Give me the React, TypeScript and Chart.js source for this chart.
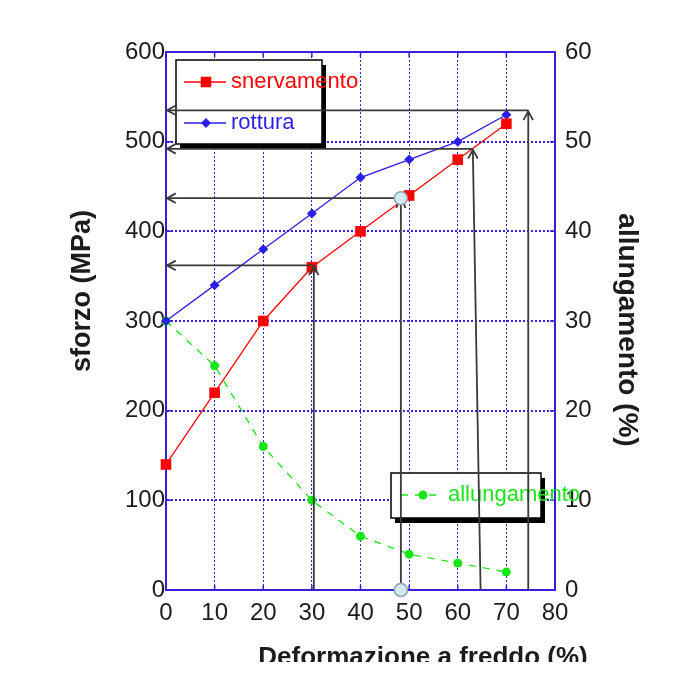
import React, { useEffect, useRef } from 'react';
import { Chart, registerables } from 'chart.js';

Chart.register(...registerables);

// ---- data ----
const deformazione = [0, 10, 20, 30, 40, 50, 60, 70];
const snervamento = [140, 220, 300, 360, 400, 440, 480, 520];
const rottura = [300, 340, 380, 420, 460, 480, 500, 530];
const allungamento = [30, 25, 16, 10, 6, 4, 3, 2];

// annotation arrows (data units): vertical from (bottomX, 0) up to (topX, level), horizontal from (topX, level) to x = 0
const arrowBottomX = [30.4, 48.3, 64.7, 74.5];
const arrowTopX = [30.4, 48.3, 63.1, 74.5];
const arrowLevel = [362, 437, 492, 535];
const markedArrow = [false, true, false, false];

const xLabel = 'Deformazione a freddo (%)';
const yLabel = 'sforzo (MPa)';
const y1Label = 'allungamento (%)';

const FONT = '"Liberation Sans", Arial, sans-serif';
const RED = '#ff0000';
const BLUE = '#2c1ee6';
const GREEN = '#19e619';
const FRAME = 'rgb(52,32,218)';
const TEXT = '#1c1c1c';
const ARROW = '#3a3a3a';

function marker(ctx: CanvasRenderingContext2D, style: string, x: number, y: number, r: number, color: string) {
  ctx.save();
  ctx.fillStyle = color;
  ctx.beginPath();
  if (style === 'rect') {
    const s = Math.SQRT1_2 * r;
    ctx.rect(x - s, y - s, 2 * s, 2 * s);
  } else if (style === 'rectRot') {
    ctx.moveTo(x, y - r);
    ctx.lineTo(x + r, y);
    ctx.lineTo(x, y + r);
    ctx.lineTo(x - r, y);
    ctx.closePath();
  } else {
    ctx.arc(x, y, r, 0, Math.PI * 2);
  }
  ctx.fill();
  ctx.restore();
}

function arrowHead(ctx: CanvasRenderingContext2D, tx: number, ty: number, fx: number, fy: number) {
  const ang = Math.atan2(ty - fy, tx - fx);
  const len = 10;
  const spread = 0.5;
  ctx.beginPath();
  ctx.moveTo(tx - len * Math.cos(ang - spread), ty - len * Math.sin(ang - spread));
  ctx.lineTo(tx, ty);
  ctx.lineTo(tx - len * Math.cos(ang + spread), ty - len * Math.sin(ang + spread));
  ctx.stroke();
}

function legendBox(ctx: CanvasRenderingContext2D, x: number, y: number, w: number, h: number) {
  ctx.save();
  ctx.fillStyle = '#000';
  ctx.fillRect(x + 4, y + 5, w, h);
  ctx.fillStyle = '#fff';
  ctx.fillRect(x, y, w, h);
  ctx.strokeStyle = '#000';
  ctx.lineWidth = 1.5;
  ctx.strokeRect(x, y, w, h);
  ctx.restore();
}

function legendEntry(ctx: CanvasRenderingContext2D, ds: any, x: number, y: number) {
  ctx.save();
  ctx.strokeStyle = ds.borderColor;
  ctx.lineWidth = 1.3;
  ctx.setLineDash(ds.borderDash || []);
  ctx.beginPath();
  ctx.moveTo(x, y);
  ctx.lineTo(x + 42, y);
  ctx.stroke();
  ctx.setLineDash([]);
  marker(ctx, ds.pointStyle, x + 22, y, ds.pointRadius, ds.borderColor);
  ctx.fillStyle = ds.borderColor;
  ctx.font = `22px ${FONT}`;
  ctx.textBaseline = 'middle';
  ctx.textAlign = 'left';
  ctx.fillText(ds.label, x + 47, y);
  ctx.restore();
}

const framePlugin = {
  id: 'frameTicks',
  beforeDatasetsDraw(chart: any) {
    const { ctx, chartArea: a, scales } = chart;
    ctx.save();
    ctx.strokeStyle = FRAME;
    ctx.lineWidth = 2;
    ctx.beginPath();
    ctx.moveTo(a.left - 1, a.top);
    ctx.lineTo(a.right + 1, a.top);
    ctx.stroke();
    ctx.lineWidth = 1.5;
    ctx.beginPath();
    scales.x.ticks.forEach((t: any) => {
      const p = scales.x.getPixelForValue(t.value);
      ctx.moveTo(p, a.bottom);
      ctx.lineTo(p, a.bottom - 5);
      ctx.moveTo(p, a.top);
      ctx.lineTo(p, a.top + 5);
    });
    scales.y.ticks.forEach((t: any) => {
      const p = scales.y.getPixelForValue(t.value);
      ctx.moveTo(a.left, p);
      ctx.lineTo(a.left + 5, p);
      ctx.moveTo(a.right, p);
      ctx.lineTo(a.right - 5, p);
    });
    ctx.stroke();
    ctx.restore();
  },
};

const overlayPlugin = {
  id: 'overlay',
  afterDatasetsDraw(chart: any) {
    const { ctx, chartArea: a, scales } = chart;
    const dsets = chart.data.datasets;
    // legends
    legendBox(ctx, a.left + 10, a.top + 8, 146, 84);
    legendEntry(ctx, dsets[0], a.left + 18, a.top + 30);
    legendEntry(ctx, dsets[1], a.left + 18, a.top + 71);
    legendBox(ctx, a.left + 225, a.top + 421, 150, 45);
    legendEntry(ctx, dsets[2], a.left + 235, a.top + 443);

    // arrows
    const xs = scales.x;
    const ys = scales.y;
    ctx.save();
    ctx.strokeStyle = ARROW;
    ctx.lineWidth = 1.8;
    const x0 = xs.getPixelForValue(0);
    const y0 = ys.getPixelForValue(0);
    arrowLevel.forEach((lv, i) => {
      const yl = ys.getPixelForValue(lv);
      const xt = xs.getPixelForValue(arrowTopX[i]);
      const xb = xs.getPixelForValue(arrowBottomX[i]);
      ctx.beginPath();
      ctx.moveTo(xt, yl);
      ctx.lineTo(x0 + 1, yl);
      ctx.stroke();
      arrowHead(ctx, x0 + 1, yl, xt, yl);
      ctx.beginPath();
      ctx.moveTo(xb, y0);
      ctx.lineTo(xt, yl + 1);
      ctx.stroke();
      arrowHead(ctx, xt, yl + 1, xb, y0);
    });
    arrowLevel.forEach((lv, i) => {
      if (!markedArrow[i]) return;
      const pts = [
        [xs.getPixelForValue(arrowTopX[i]), ys.getPixelForValue(lv)],
        [xs.getPixelForValue(arrowBottomX[i]), y0],
      ];
      pts.forEach(([px, py]) => {
        ctx.beginPath();
        ctx.arc(px, py, 6.5, 0, Math.PI * 2);
        ctx.fillStyle = '#d3eaf2';
        ctx.fill();
        ctx.strokeStyle = '#8fa3ab';
        ctx.lineWidth = 1.5;
        ctx.stroke();
      });
    });
    ctx.restore();
  },
};

const titlesPlugin = {
  id: 'axisTitles',
  afterDraw(chart: any) {
    const { ctx, chartArea: a } = chart;
    ctx.save();
    ctx.fillStyle = TEXT;
    ctx.textAlign = 'center';
    ctx.font = `bold 26px ${FONT}`;
    ctx.textBaseline = 'alphabetic';
    ctx.fillText(xLabel, a.left + 257, a.bottom + 75);

    ctx.textBaseline = 'middle';
    ctx.font = `bold 27px ${FONT}`;
    ctx.save();
    ctx.translate(a.left - 83, a.top + 239);
    ctx.rotate(-Math.PI / 2);
    ctx.fillText(yLabel, 0, 0);
    ctx.restore();

    ctx.font = `bold 28px ${FONT}`;
    ctx.save();
    ctx.translate(a.right + 72, a.top + 278);
    ctx.rotate(Math.PI / 2);
    ctx.fillText(y1Label, 0, 0);
    ctx.restore();
    ctx.restore();
  },
};

export default function App() {
  const ref = useRef<HTMLCanvasElement>(null);

  useEffect(() => {
    if (!ref.current) return;
    const tickFont = { family: FONT, size: 24 };
    const chart = new Chart(ref.current, {
      type: 'line',
      data: {
        datasets: [
          {
            label: 'snervamento',
            data: deformazione.map((x, i) => ({ x, y: snervamento[i] })),
            borderColor: RED,
            backgroundColor: RED,
            pointBackgroundColor: RED,
            pointBorderWidth: 0,
            borderWidth: 1.3,
            pointStyle: 'rect',
            pointRadius: 7.5,
            yAxisID: 'y',
            clip: false,
          } as any,
          {
            label: 'rottura',
            data: deformazione.map((x, i) => ({ x, y: rottura[i] })),
            borderColor: BLUE,
            backgroundColor: BLUE,
            pointBackgroundColor: BLUE,
            pointBorderWidth: 0,
            borderWidth: 1.3,
            pointStyle: 'rectRot',
            pointRadius: 5,
            yAxisID: 'y',
            clip: false,
          } as any,
          {
            label: 'allungamento',
            data: deformazione.map((x, i) => ({ x, y: allungamento[i] })),
            borderColor: GREEN,
            backgroundColor: GREEN,
            pointBackgroundColor: GREEN,
            pointBorderWidth: 0,
            borderWidth: 1.3,
            borderDash: [7, 7],
            pointStyle: 'circle',
            pointRadius: 4.5,
            yAxisID: 'y1',
            clip: false,
          } as any,
        ],
      },
      options: {
        animation: false,
        responsive: false,
        devicePixelRatio: 1,
        layout: { padding: { top: 52, left: 0, right: 0, bottom: 0 } },
        plugins: { legend: { display: false }, tooltip: { enabled: false } },
        scales: {
          x: {
            type: 'linear',
            min: 0,
            max: 80,
            ticks: { stepSize: 10, font: tickFont, color: TEXT, padding: 9 },
            grid: { color: FRAME, lineWidth: 1, drawTicks: false },
            border: { display: true, color: FRAME, width: 2, dash: [2, 2] },
            afterFit: (s: any) => { s.height = 72; },
          },
          y: {
            type: 'linear',
            position: 'left',
            min: 0,
            max: 600,
            ticks: { stepSize: 100, font: tickFont, color: TEXT, padding: 1 },
            grid: { color: FRAME, lineWidth: 2, drawTicks: false },
            border: { display: true, color: FRAME, width: 2, dash: [2, 2] },
            afterFit: (s: any) => { s.width = 166; },
          },
          y1: {
            type: 'linear',
            position: 'right',
            min: 0,
            max: 60,
            ticks: { stepSize: 10, font: tickFont, color: TEXT, padding: 10 },
            grid: { display: false, drawTicks: false },
            border: { display: true, color: FRAME, width: 2 },
            afterFit: (s: any) => { s.width = 120; },
          },
        },
      } as any,
      plugins: [framePlugin, overlayPlugin, titlesPlugin],
    });
    return () => chart.destroy();
  }, []);

  return (
    <div style={{ position: 'absolute', left: 0, top: 0, width: 675, height: 662 }}>
      <canvas ref={ref} width={675} height={662} />
    </div>
  );
}
